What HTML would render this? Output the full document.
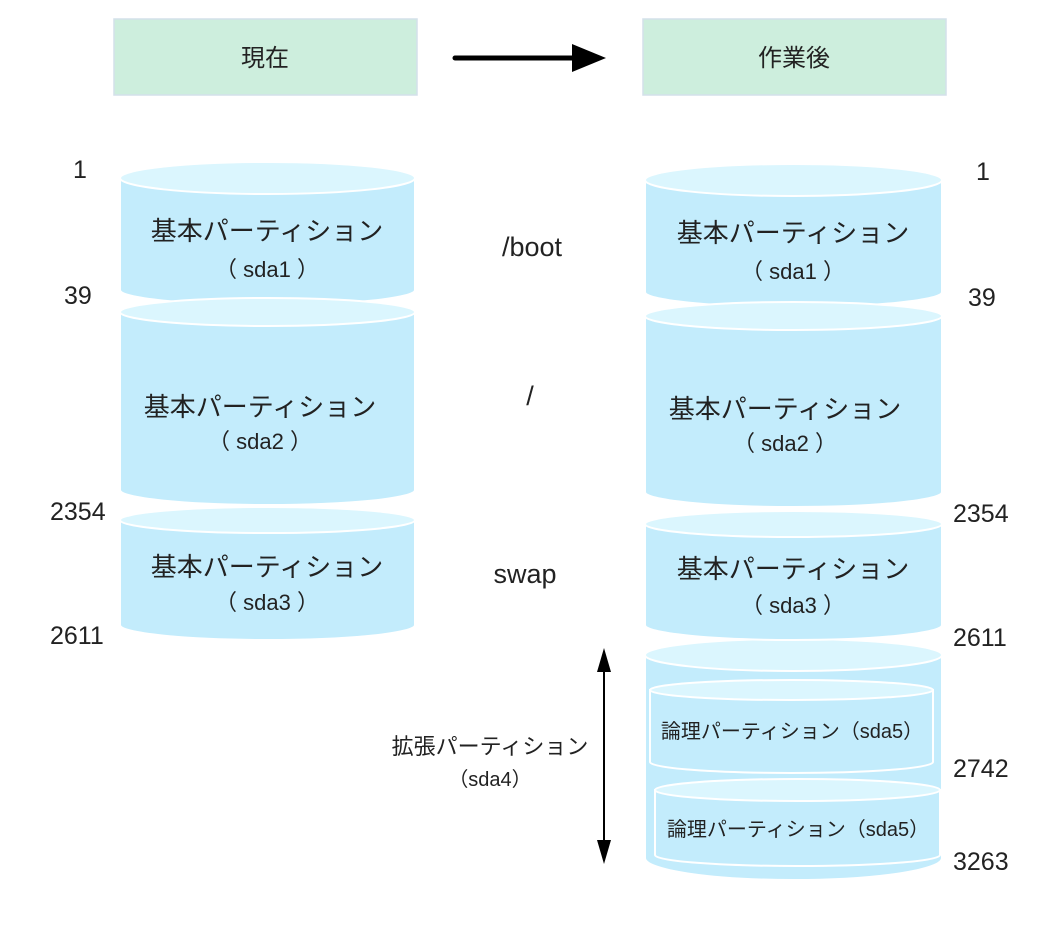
<!DOCTYPE html>
<html><head><meta charset="utf-8"><style>
body{margin:0;background:#fff;width:1042px;height:922px;overflow:hidden}
text{font-family:"Liberation Sans","Noto Sans CJK JP",sans-serif;fill:#222}
</style></head><body>
<svg width="1042" height="922" viewBox="0 0 1042 922" xmlns="http://www.w3.org/2000/svg">
<rect x="114" y="19" width="303" height="76" fill="#cdeedd" stroke="#d4e0ea" stroke-width="1.5"/>
<text x="265" y="66" font-size="24" text-anchor="middle">現在</text>
<rect x="643" y="19" width="303" height="76" fill="#cdeedd" stroke="#d4e0ea" stroke-width="1.5"/>
<text x="794" y="66" font-size="24" text-anchor="middle">作業後</text>
<line x1="455" y1="58" x2="575" y2="58" stroke="#000" stroke-width="5" stroke-linecap="round"/>
<path d="M572,44L606,58L572,72z" fill="#000"/>

<g stroke="#fff" stroke-width="2">
<path d="M120,178 V290 A147.5,15 0 0 0 415,290 V178 z" fill="#c3ecfc"/>
<ellipse cx="267.5" cy="178" rx="147.5" ry="16" fill="#dbf6fe"/>
<path d="M120,312 V490 A147.5,15 0 0 0 415,490 V312 z" fill="#c3ecfc"/>
<ellipse cx="267.5" cy="312" rx="147.5" ry="14" fill="#dbf6fe"/>
<path d="M120,520 V625 A147.5,15 0 0 0 415,625 V520 z" fill="#c3ecfc"/>
<ellipse cx="267.5" cy="520" rx="147.5" ry="13" fill="#dbf6fe"/>
<path d="M645,655 V858 A148.5,22 0 0 0 942,858 V655 z" fill="#c3ecfc"/>
<ellipse cx="793.5" cy="655" rx="148.5" ry="16" fill="#dbf6fe"/>
<path d="M645,180 V292 A148.5,15 0 0 0 942,292 V180 z" fill="#c3ecfc"/>
<ellipse cx="793.5" cy="180" rx="148.5" ry="16" fill="#dbf6fe"/>
<path d="M645,316 V492 A148.5,15 0 0 0 942,492 V316 z" fill="#c3ecfc"/>
<ellipse cx="793.5" cy="316" rx="148.5" ry="14" fill="#dbf6fe"/>
<path d="M645,524 V625 A148.5,15 0 0 0 942,625 V524 z" fill="#c3ecfc"/>
<ellipse cx="793.5" cy="524" rx="148.5" ry="13" fill="#dbf6fe"/>
<path d="M650,690 V762 A141.5,11 0 0 0 933,762 V690 z" fill="#c3ecfc"/>
<ellipse cx="791.5" cy="690" rx="141.5" ry="10" fill="#dbf6fe"/>
<path d="M655,790 V855 A142.5,11 0 0 0 940,855 V790 z" fill="#c3ecfc"/>
<ellipse cx="797.5" cy="790" rx="142.5" ry="11" fill="#dbf6fe"/>
</g>

<g font-size="26" text-anchor="middle">
<text x="267" y="240">基本パーティション</text>
<text x="267" y="277" font-size="22">（ sda1 ）</text>
<text x="260" y="416">基本パーティション</text>
<text x="260" y="449" font-size="22">（ sda2 ）</text>
<text x="267" y="576">基本パーティション</text>
<text x="267" y="610" font-size="22">（ sda3 ）</text>
<text x="793" y="242">基本パーティション</text>
<text x="793" y="279" font-size="22">（ sda1 ）</text>
<text x="785" y="418">基本パーティション</text>
<text x="785" y="451" font-size="22">（ sda2 ）</text>
<text x="793" y="578">基本パーティション</text>
<text x="793" y="613" font-size="22">（ sda3 ）</text>
<text x="532" y="256" font-size="27">/boot</text>
<text x="530" y="405" font-size="27">/</text>
<text x="525" y="583" font-size="27">swap</text>
</g>
<g font-size="20" text-anchor="middle">
<text x="792" y="738">論理パーティション（sda5）</text>
<text x="798" y="836">論理パーティション（sda5）</text>
<text x="490" y="754" font-size="22">拡張パーティション</text>
<text x="490" y="786">（sda4）</text>
</g>
<g font-size="25">
<text x="73" y="178">1</text>
<text x="64" y="304">39</text>
<text x="50" y="520">2354</text>
<text x="50" y="644">2611</text>
<text x="976" y="180">1</text>
<text x="968" y="306">39</text>
<text x="953" y="522">2354</text>
<text x="953" y="646">2611</text>
<text x="953" y="777">2742</text>
<text x="953" y="870">3263</text>
</g>
<line x1="604" y1="660" x2="604" y2="845" stroke="#000" stroke-width="2"/>
<path d="M597,672L604,648L611,672z" fill="#000"/>
<path d="M597,840L604,864L611,840z" fill="#000"/>
</svg>
</body></html>
